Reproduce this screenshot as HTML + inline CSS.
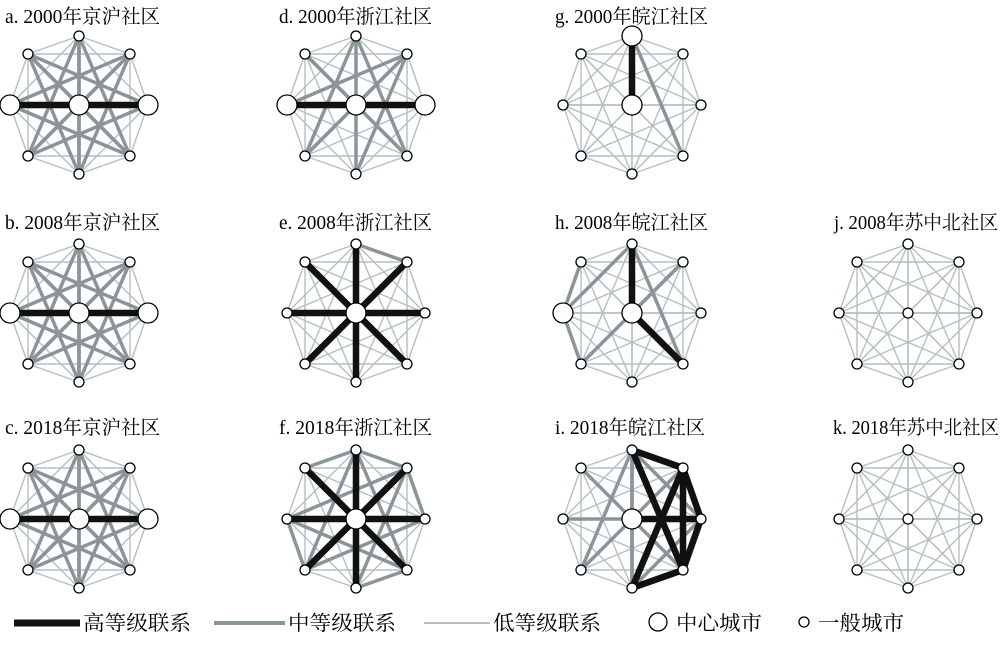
<!DOCTYPE html>
<html><head><meta charset="utf-8">
<style>
body{margin:0;background:#fff;}
svg{display:block;}
text{font-family:"Liberation Serif","Noto Serif CJK SC",serif;fill:#000;}
</style></head>
<body>
<svg id="s" width="1000" height="661" viewBox="0 0 1000 661" xmlns="http://www.w3.org/2000/svg">
<g id="g"></g>
<g font-size="19.5" lengthAdjust="spacingAndGlyphs">
<text x="5" y="23" textLength="155" lengthAdjust="spacingAndGlyphs">a. 2000年京沪社区</text>
<text x="279" y="23" textLength="153" lengthAdjust="spacingAndGlyphs">d. 2000年浙江社区</text>
<text x="555" y="23" textLength="153" lengthAdjust="spacingAndGlyphs">g. 2000年皖江社区</text>
<text x="5" y="229" textLength="155" lengthAdjust="spacingAndGlyphs">b. 2008年京沪社区</text>
<text x="279" y="229" textLength="153" lengthAdjust="spacingAndGlyphs">e. 2008年浙江社区</text>
<text x="555" y="229" textLength="153" lengthAdjust="spacingAndGlyphs">h. 2008年皖江社区</text>
<text x="834" y="229" textLength="164" lengthAdjust="spacingAndGlyphs">j. 2008年苏中北社区</text>
<text x="5" y="434" textLength="155" lengthAdjust="spacingAndGlyphs">c. 2018年京沪社区</text>
<text x="279" y="434" textLength="153" lengthAdjust="spacingAndGlyphs">f. 2018年浙江社区</text>
<text x="555" y="434" textLength="150" lengthAdjust="spacingAndGlyphs">i. 2018年皖江社区</text>
<text x="833" y="434" textLength="166" lengthAdjust="spacingAndGlyphs">k. 2018年苏中北社区</text>
</g>
<g font-size="20.5">
<line x1="14" y1="623" x2="80" y2="623" stroke="#111" stroke-width="7"/>
<text x="83" y="630" textLength="108" lengthAdjust="spacingAndGlyphs">高等级联系</text>
<line x1="214" y1="623" x2="285" y2="623" stroke="#8a9599" stroke-width="4"/>
<text x="288" y="630" textLength="108" lengthAdjust="spacingAndGlyphs">中等级联系</text>
<line x1="424" y1="623" x2="490" y2="623" stroke="#b3bfc2" stroke-width="2"/>
<text x="493" y="630" textLength="108" lengthAdjust="spacingAndGlyphs">低等级联系</text>
<circle cx="658" cy="622" r="9" fill="#fff" stroke="#000" stroke-width="1.3"/>
<text x="676" y="630" textLength="86" lengthAdjust="spacingAndGlyphs">中心城市</text>
<circle cx="804" cy="622" r="5" fill="#fff" stroke="#000" stroke-width="1.3"/>
<text x="818" y="630" textLength="86" lengthAdjust="spacingAndGlyphs">一般城市</text>
</g>
</svg>
<script>
var R=69,D=51;
var off=[[0,-R],[D,-D],[R,0],[D,D],[0,R],[-D,D],[-R,0],[-D,-D],[0,0]];
function all(){var a=[];for(var i=0;i<9;i++)for(var j=i+1;j<9;j++)a.push(i+'-'+j);return a;}
var ring=['0-1','1-2','2-3','3-4','4-5','5-6','6-7','0-7'];
function notRing(){return all().filter(function(e){return ring.indexOf(e)<0;});}
var jh={thick:['6-8','2-8'],med:notRing().filter(function(e){return ['0-2','0-6','2-4','4-6','1-7','3-5','5-7','1-3'].indexOf(e)<0;}),big:[6,8,2]};
var spokes=['0-8','1-8','2-8','3-8','4-8','5-8','6-8','7-8'];
var P=[
 [79,105,jh],[79,313,jh],[79,519,jh],
 [356,105,{thick:['6-8','2-8'],med:['0-3','0-5','1-5','1-6','1-4','3-7','7-4','7-2','0-8','4-8','1-8','7-8','3-8','5-8'],big:[6,8,2]}],
 [356,313,{thick:spokes,med:['7-2','0-1','7-4','5-2','1-8'],big:[8]}],
 [356,519,{thick:spokes,med:['7-2','0-1','7-4','5-2','0-3','0-5','1-6','1-4','3-6','6-1','2-5','7-3','0-7','3-4','1-2','5-6'],big:[8]}],
 [632,105,{thick:['0-8'],med:['0-3'],big:[0,8]}],
 [632,313,{thick:['0-8','3-8'],med:['0-6','0-3','1-5','1-8','6-2','6-3','5-6','6-7'],big:[6,8]}],
 [632,519,{thick:['0-1','1-2','2-3','3-4','1-3','2-8','1-4','0-3'],med:['7-2','7-3','6-1','5-1','0-5','6-8','0-8','4-8','7-8','5-8','1-8','3-8','0-4','6-2','0-2','2-4'],big:[8]}],
 [908,313,{thick:[],med:[],big:[]}],
 [908,519,{thick:[],med:[],big:[]}]
];
var h='';
P.forEach(function(p){
 var cx=p[0],cy=p[1],s=p[2];
 function pt(i){return [cx+off[i][0],cy+off[i][1]];}
 var L=[[],[],[]];
 all().forEach(function(e){
  var k=s.thick.indexOf(e)>=0?2:(s.med.indexOf(e)>=0?1:0);
  var ij=e.split('-').map(Number),a=pt(ij[0]),b=pt(ij[1]);
  var st=[['#b3bfc2',1.4],['#8a9599',3.5],['#111',6.5]][k];
  L[k].push('<line x1="'+a[0]+'" y1="'+a[1]+'" x2="'+b[0]+'" y2="'+b[1]+'" stroke="'+st[0]+'" stroke-width="'+st[1]+'"/>');
 });
 h+=L[0].join('')+L[1].join('')+L[2].join('');
 for(var i=0;i<9;i++){var q=pt(i);var r=s.big.indexOf(i)>=0?10:5;
  h+='<circle cx="'+q[0]+'" cy="'+q[1]+'" r="'+r+'" fill="#fff" stroke="#000" stroke-width="1.3"/>';}
});
document.getElementById('g').innerHTML=h;
</script>
</body></html>
